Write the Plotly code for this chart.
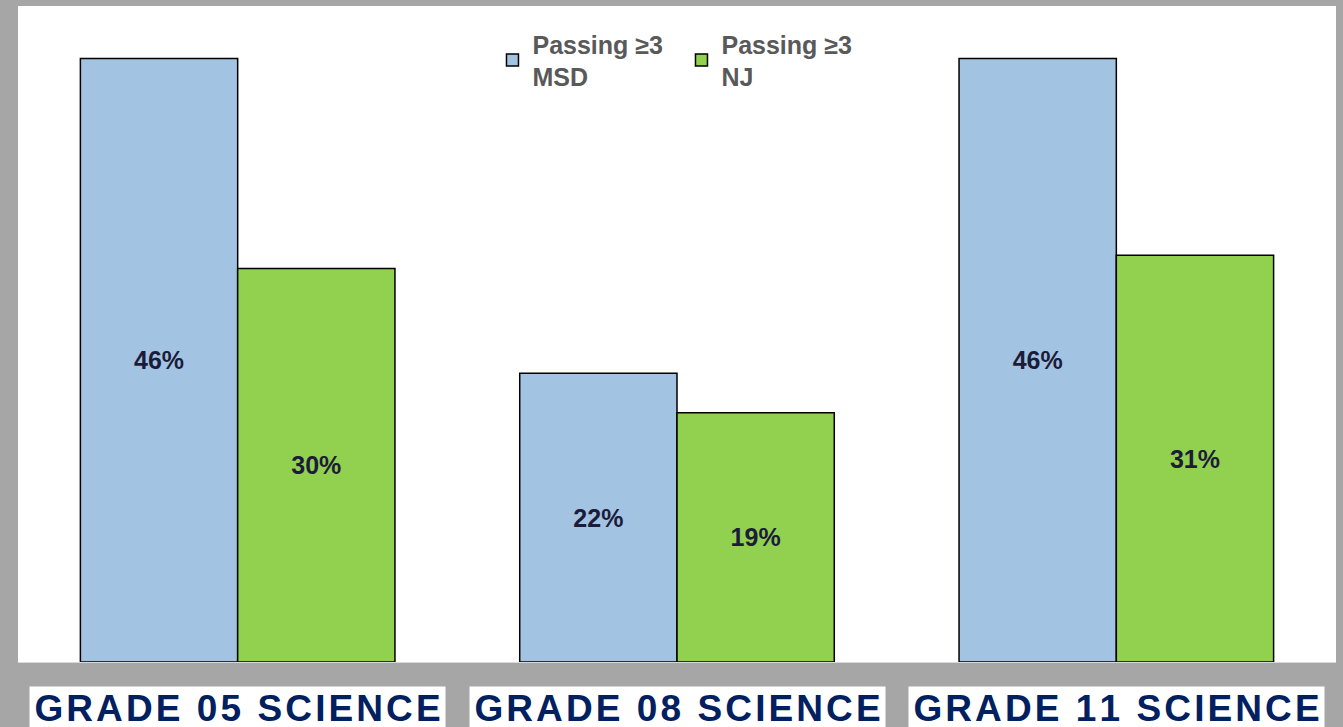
import plotly.graph_objects as go

categories = ["GRADE 05 SCIENCE", "GRADE 08 SCIENCE", "GRADE 11 SCIENCE"]
series_names = ["<b>Passing ≥3<br>MSD</b>", "<b>Passing ≥3<br>NJ</b>"]
msd_values = [46, 22, 46]
nj_values = [30, 19, 31]
colors = ["#A2C4E2", "#92D050"]

W, H = 1343, 727
ML, MR, MT, MB = 18, 7, 6, 65

fig = go.Figure()
for name, vals, col in zip(series_names, [msd_values, nj_values], colors):
    fig.add_trace(go.Bar(
        x=categories, y=vals, name=name,
        marker=dict(color=col, line=dict(color="#000000", width=1.5)),
        text=[f"{v}%" for v in vals], textposition="inside",
        insidetextanchor="middle",
        textfont=dict(family="Liberation Sans, Arial, sans-serif", size=25, color="#1c1c3a"),
        texttemplate="<b>%{text}</b>",
    ))

for c in categories:
    fig.add_annotation(
        x=c, xref="x", y=0, yref="paper", yanchor="top", yshift=-24,
        text="<b>" + "\u200a".join(list(c)) + "</b>",
        showarrow=False, bgcolor="#FFFFFF", width=415, height=42,
        valign="middle", align="center", borderpad=0,
        font=dict(family="Liberation Sans, Arial, sans-serif", size=37, color="#002060"),
    )

fig.update_layout(
    width=W, height=H,
    margin=dict(l=ML, r=MR, t=MT, b=MB),
    paper_bgcolor="#A6A6A6", plot_bgcolor="#FFFFFF",
    barmode="group", bargap=0.284, bargroupgap=0,
    showlegend=True,
    legend=dict(orientation="h", x=0.360, y=0.977, xanchor="left", yanchor="top",
                bgcolor="rgba(0,0,0,0)",
                font=dict(family="Liberation Sans, Arial, sans-serif", size=25, color="#595959"),
                tracegroupgap=0, entrywidth=144, entrywidthmode="pixels"),
    xaxis=dict(showticklabels=False, showgrid=False, zeroline=False, showline=True,
               linecolor="#D9D9D9", linewidth=1, ticks=""),
    yaxis=dict(range=[0, 50], showticklabels=False, showgrid=False, zeroline=False,
               showline=False, ticks=""),
)
fig.write_html("out.html", config={"displayModeBar": False},
               post_script="document.body.style.margin='0';document.body.style.overflow='hidden';")
